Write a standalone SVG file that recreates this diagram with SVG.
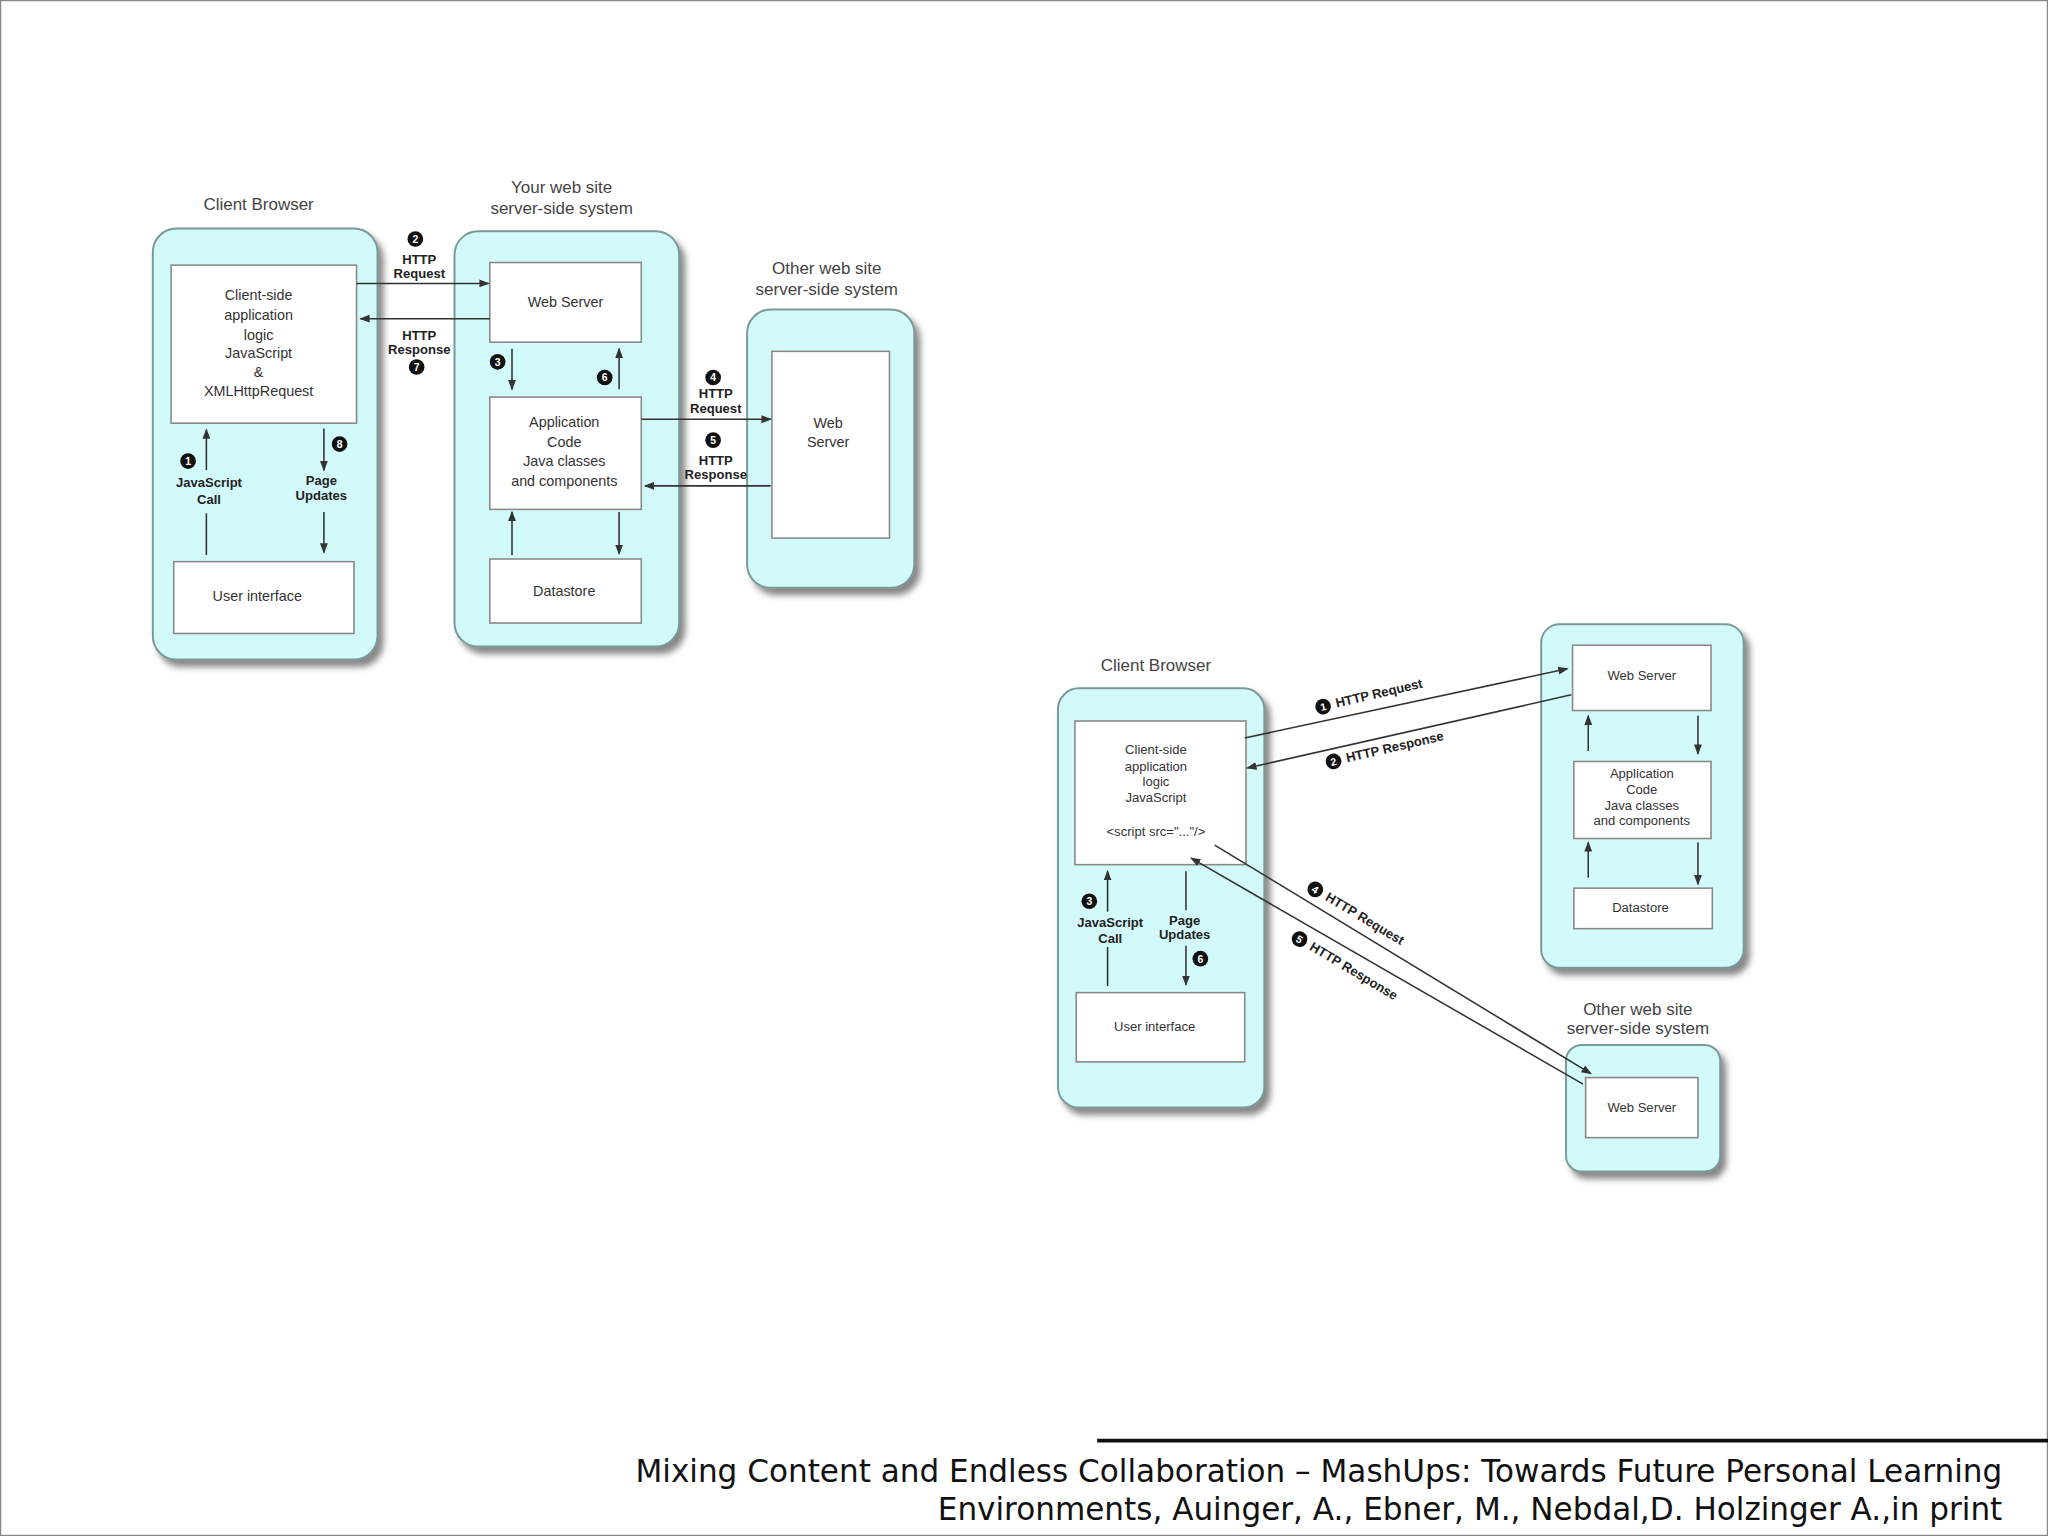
<svg xmlns="http://www.w3.org/2000/svg" width="2048" height="1536" viewBox="0 0 2048 1536">
<style>
.outer{fill:#d3fafa;stroke:#7a9a9a;stroke-width:1.5}
.inner{fill:#fff;stroke:#888;stroke-width:1.2}
.t{font-family:"Liberation Sans",Arial,sans-serif;font-size:11px;fill:#333;text-anchor:middle}
.tt{font-family:"Liberation Sans",Arial,sans-serif;font-size:13px;fill:#444;text-anchor:middle}
.b{font-family:"Liberation Sans",Arial,sans-serif;font-size:10px;font-weight:bold;fill:#222;text-anchor:middle}
.bl{font-family:"Liberation Sans",Arial,sans-serif;font-size:10px;font-weight:bold;fill:#222}
.n{font-family:"Liberation Sans",Arial,sans-serif;font-size:8px;font-weight:bold;fill:#fff;text-anchor:middle}
.c{fill:#111}
.ln{stroke:#333;stroke-width:1.2;fill:none;marker-end:url(#ah)}
.foot{font-family:"DejaVu Sans",Verdana,sans-serif;font-size:23.8px;fill:#111;text-anchor:end}
</style>
<defs>
<marker id="ah" markerWidth="8" markerHeight="8" refX="7" refY="4" orient="auto" markerUnits="userSpaceOnUse"><path d="M0,1 L8,4 L0,7 Z" fill="#333"/></marker>
<filter id="sh" x="-10%" y="-10%" width="130%" height="130%"><feDropShadow dx="4" dy="5" stdDeviation="2.5" flood-color="#555" flood-opacity="0.7"/></filter>
</defs>
<rect x="0" y="0" width="2048" height="1536" fill="#fff"/>
<rect x="0.5" y="0.5" width="2047" height="1535" fill="none" stroke="#888" stroke-width="1.5"/>
<g transform="scale(1.30612)">
<!-- Diagram 1 -->
<g id="d1-client">
<text class="tt" x="198" y="161">Client Browser</text>
<rect class="outer" x="117" y="175" width="172" height="330" rx="18" filter="url(#sh)"/>
<rect class="inner" x="131" y="203" width="142" height="121"/>
<text class="t" x="198" y="230">Client-side</text>
<text class="t" x="198" y="245">application</text>
<text class="t" x="198" y="260">logic</text>
<text class="t" x="198" y="274">JavaScript</text>
<text class="t" x="198" y="289">&amp;</text>
<text class="t" x="198" y="303">XMLHttpRequest</text>
<rect class="inner" x="133" y="430" width="138" height="55"/>
<text class="t" x="197" y="460">User interface</text>
</g>
<g id="d1-yoursite">
<text class="tt" x="430" y="148">Your web site</text>
<text class="tt" x="430" y="164">server-side system</text>
<rect class="outer" x="348" y="177" width="172" height="318" rx="18" filter="url(#sh)"/>
<rect class="inner" x="375" y="201" width="116" height="61"/>
<text class="t" x="433" y="235">Web Server</text>
<rect class="inner" x="375" y="304" width="116" height="86"/>
<text class="t" x="432" y="327">Application</text>
<text class="t" x="432" y="342">Code</text>
<text class="t" x="432" y="357">Java classes</text>
<text class="t" x="432" y="372">and components</text>
<rect class="inner" x="375" y="428" width="116" height="49"/>
<text class="t" x="432" y="456">Datastore</text>
</g>
<g id="d1-other">
<text class="tt" x="633" y="210">Other web site</text>
<text class="tt" x="633" y="226">server-side system</text>
<rect class="outer" x="572" y="237" width="128" height="213" rx="18" filter="url(#sh)"/>
<rect class="inner" x="591" y="269" width="90" height="143"/>
<text class="t" x="634" y="328">Web</text>
<text class="t" x="634" y="342">Server</text>
</g>
<g id="d1-connectors">
<line class="ln" x1="158" y1="360" x2="158" y2="329"/>
<line x1="158" y1="425" x2="158" y2="393" stroke="#333" stroke-width="1.2"/>
<circle class="c" cx="144" cy="353" r="6"/><text class="n" x="144" y="356">1</text>
<text class="b" x="160" y="373">JavaScript</text><text class="b" x="160" y="386">Call</text>
<line class="ln" x1="248" y1="328" x2="248" y2="360"/>
<circle class="c" cx="260" cy="340" r="6"/><text class="n" x="260" y="343">8</text>
<text class="b" x="246" y="371">Page</text><text class="b" x="246" y="383">Updates</text>
<line class="ln" x1="248" y1="392" x2="248" y2="423"/>
<line class="ln" x1="273" y1="217" x2="374" y2="217"/>
<circle class="c" cx="318" cy="183" r="6"/><text class="n" x="318" y="186">2</text>
<text class="b" x="321" y="202">HTTP</text><text class="b" x="321" y="213">Request</text>
<line class="ln" x1="375" y1="244" x2="276" y2="244"/>
<text class="b" x="321" y="260">HTTP</text><text class="b" x="321" y="271">Response</text>
<circle class="c" cx="319" cy="281" r="6"/><text class="n" x="319" y="284">7</text>
<line class="ln" x1="392" y1="267" x2="392" y2="298"/>
<circle class="c" cx="381" cy="277" r="6"/><text class="n" x="381" y="280">3</text>
<line class="ln" x1="474" y1="298" x2="474" y2="267"/>
<circle class="c" cx="463" cy="289" r="6"/><text class="n" x="463" y="292">6</text>
<line class="ln" x1="392" y1="425" x2="392" y2="392"/>
<line class="ln" x1="474" y1="392" x2="474" y2="424"/>
<line class="ln" x1="491" y1="321" x2="590" y2="321"/>
<circle class="c" cx="546" cy="289" r="6"/><text class="n" x="546" y="292">4</text>
<text class="b" x="548" y="305">HTTP</text><text class="b" x="548" y="316">Request</text>
<circle class="c" cx="546" cy="337" r="6"/><text class="n" x="546" y="340">5</text>
<text class="b" x="548" y="356">HTTP</text><text class="b" x="548" y="367">Response</text>
<line class="ln" x1="590" y1="372" x2="494" y2="372"/>
</g>
<!-- Diagram 2 -->
<g id="d2-client">
<text class="tt" x="885" y="514">Client Browser</text>
<rect class="outer" x="810" y="527" width="158" height="321" rx="16" filter="url(#sh)"/>
<rect class="inner" x="823" y="552" width="131" height="110"/>
<text class="t" x="885" y="577" style="font-size:10px">Client-side</text>
<text class="t" x="885" y="590" style="font-size:10px">application</text>
<text class="t" x="885" y="602" style="font-size:10px">logic</text>
<text class="t" x="885" y="614" style="font-size:10px">JavaScript</text>
<text class="t" x="885" y="640" style="font-size:10px">&lt;script src="..."/&gt;</text>
<rect class="inner" x="824" y="760" width="129" height="53"/>
<text class="t" x="884" y="789" style="font-size:10px">User interface</text>
</g>
<g id="d2-yoursite">
<rect class="outer" x="1180" y="478" width="155" height="263" rx="14" filter="url(#sh)"/>
<rect class="inner" x="1204" y="494" width="106" height="50"/>
<text class="t" x="1257" y="521" style="font-size:10px">Web Server</text>
<rect class="inner" x="1205" y="583" width="105" height="59"/>
<text class="t" x="1257" y="596" style="font-size:10px">Application</text>
<text class="t" x="1257" y="608" style="font-size:10px">Code</text>
<text class="t" x="1257" y="620" style="font-size:10px">Java classes</text>
<text class="t" x="1257" y="632" style="font-size:10px">and components</text>
<rect class="inner" x="1205" y="680" width="106" height="31"/>
<text class="t" x="1256" y="698" style="font-size:10px">Datastore</text>
</g>
<g id="d2-other">
<text class="tt" x="1254" y="777">Other web site</text>
<text class="tt" x="1254" y="792">server-side system</text>
<rect class="outer" x="1199" y="800" width="118" height="97" rx="12" filter="url(#sh)"/>
<rect class="inner" x="1214" y="825" width="86" height="46"/>
<text class="t" x="1257" y="851" style="font-size:10px">Web Server</text>
</g>
<g id="d2-connectors">
<line class="ln" x1="848" y1="698" x2="848" y2="667"/>
<line x1="848" y1="725" x2="848" y2="755" stroke="#333" stroke-width="1.2"/>
<circle class="c" cx="834" cy="690" r="6"/><text class="n" x="834" y="693">3</text>
<text class="b" x="850" y="710">JavaScript</text><text class="b" x="850" y="722">Call</text>
<line x1="908" y1="667" x2="908" y2="697" stroke="#333" stroke-width="1.2"/>
<text class="b" x="907" y="708">Page</text><text class="b" x="907" y="719">Updates</text>
<line class="ln" x1="908" y1="724" x2="908" y2="754"/>
<circle class="c" cx="919" cy="734" r="6"/><text class="n" x="919" y="737">6</text>
<line class="ln" x1="1216" y1="575" x2="1216" y2="548"/>
<line class="ln" x1="1300" y1="548" x2="1300" y2="577"/>
<line class="ln" x1="1216" y1="672" x2="1216" y2="645"/>
<line class="ln" x1="1300" y1="645" x2="1300" y2="677"/>
<line class="ln" x1="953" y1="565" x2="1200" y2="512"/>
<line class="ln" x1="1203" y1="532" x2="955" y2="588"/>
<g transform="translate(1013,541) rotate(-13)"><circle class="c" r="6"/><text class="n" y="3">1</text><text class="bl" x="10" y="3">HTTP Request</text></g>
<g transform="translate(1021,583) rotate(-13)"><circle class="c" r="6"/><text class="n" y="3">2</text><text class="bl" x="10" y="3">HTTP Response</text></g>
<line class="ln" x1="930" y1="647" x2="1218" y2="822"/>
<line class="ln" x1="1212" y1="830" x2="912" y2="657"/>
<g transform="translate(1007,681) rotate(31)"><circle class="c" r="6"/><text class="n" y="3">4</text><text class="bl" x="10" y="3">HTTP Request</text></g>
<g transform="translate(995,719) rotate(31)"><circle class="c" r="6"/><text class="n" y="3">5</text><text class="bl" x="10" y="3">HTTP Response</text></g>
</g>
<g id="footer">
<line x1="840" y1="1103" x2="1568" y2="1103" stroke="#111" stroke-width="3"/>
<text class="foot" x="1533" y="1135">Mixing Content and Endless Collaboration – MashUps: Towards Future Personal Learning</text>
<text class="foot" x="1533" y="1164">Environments, Auinger, A., Ebner, M., Nebdal,D. Holzinger A.,in print</text>
</g>
</g>
</svg>
